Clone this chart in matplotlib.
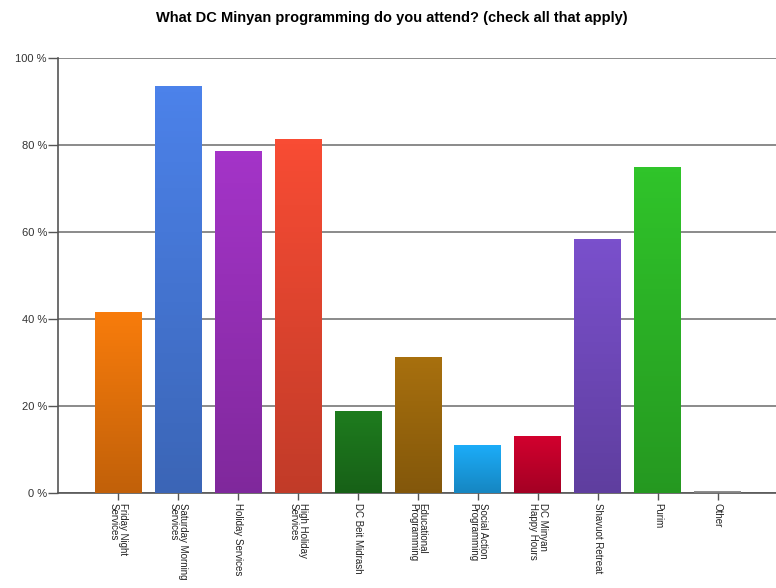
import numpy as np
import matplotlib.pyplot as plt
from matplotlib.colors import to_rgb

categories = ["Friday Night\nServices", "Saturday Morning\nServices", "Holiday Services",
              "High Holiday\nServices", "DC Beit Midrash", "Educational\nProgramming",
              "Social Action\nProgramming", "DC Minyan\nHappy Hours", "Shavuot Retreat",
              "Purim", "Other"]
values = [41.6, 93.5, 78.6, 81.4, 18.9, 31.3, 11.0, 13.1, 58.4, 74.9, 0.5]
colors = ["#f87c0c", "#4c82ea", "#a434c8", "#f84c34", "#1e7c1e", "#a8700e",
          "#1cacf8", "#d2002e", "#7a50cc", "#30c42a", "#a0a0a0"]
yticks = [0, 20, 40, 60, 80, 100]

plt.rcParams['font.family'] = ['Liberation Sans', 'DejaVu Sans']

fig = plt.figure(figsize=(7.76, 5.88), dpi=100)
ax = fig.add_axes([58/776, 1 - 493/588, 1 - 58/776, 435/588])

x = np.arange(len(categories))
ax.set_axisbelow(True)
ax.yaxis.grid(True, color="#8a8a8a", linewidth=1.4)
bars = ax.bar(x, values, width=0.78, color=colors, zorder=3)

# vertical gradient on each bar: colour at top, darker at bottom
for b, c in zip(bars, colors):
    top = np.array(to_rgb(c))
    bot = top * 0.78
    t = np.linspace(0, 1, 64)[:, None]
    grad = (bot * (1 - t) + top * t)[:, None, :]
    x0, y0 = b.get_x(), b.get_y()
    im = ax.imshow(grad, extent=[x0, x0 + b.get_width(), y0, y0 + b.get_height()],
                   origin="lower", aspect="auto", zorder=3.5)
    im.set_clip_path(b)

ax.set_xlim(-1, 10.97)
ax.set_ylim(0, 100)
ax.set_yticks(yticks)
ax.set_yticklabels([f"{v} %" for v in yticks], fontsize=8, color="#333333")
ax.set_xticks(x)
ax.set_xticklabels(categories, rotation=-90, fontsize=7, va="top", ha="center",
                   multialignment="left", color="#222222", linespacing=0.95)
ax.tick_params(axis="y", length=7, color="#555555", width=1, pad=1)
ax.tick_params(axis="x", length=5, color="#555555", width=1, pad=2)

for s in ["top", "right"]:
    ax.spines[s].set_visible(False)
ax.spines["left"].set_color("#555555")
ax.spines["bottom"].set_color("#555555")
ax.spines["left"].set_linewidth(1.2)
ax.spines["bottom"].set_linewidth(1.2)

fig.text(0.505, 1 - 18/588, "What DC Minyan programming do you attend? (check all that apply)",
         ha="center", va="center", fontsize=10.5, fontweight="bold")

fig.savefig("out.png", dpi=100)
